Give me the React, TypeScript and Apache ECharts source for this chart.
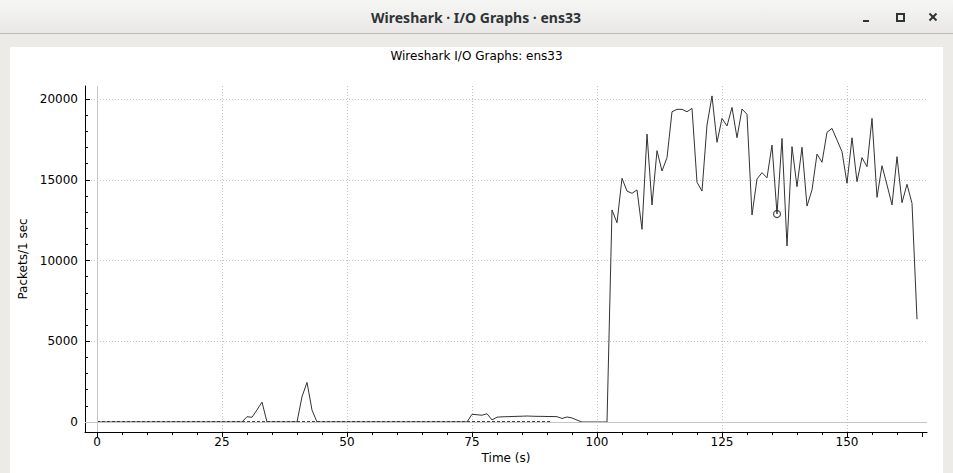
import React, { useEffect, useRef } from "react";
import * as echarts from "echarts";

const windowTitle = "Wireshark · I/O Graphs · ens33";
const chartTitle = "Wireshark I/O Graphs: ens33";
const xAxisName = "Time (s)";
const yAxisName = "Packets/1 sec";

// packets per 1-second interval, index = second
const mainPackets = [
  0, 0, 0, 0, 0, 0, 0, 0, 0, 0,
  0, 0, 0, 0, 0, 0, 0, 0, 0, 0,
  0, 0, 0, 0, 0, 0, 0, 0, 0, 0,
  330, 290, 750, 1230, 0, 0, 0, 0, 0, 0,
  0, 1570, 2450, 740, 0, 0, 0, 0, 0, 0,
  0, 0, 0, 0, 0, 0, 0, 0, 0, 0,
  0, 0, 0, 0, 0, 0, 0, 0, 0, 0,
  0, 0, 0, 0, 0, 480, 450, 420, 510, 130,
  300, 320, 330, 340, 350, 360, 370, 360, 350, 350,
  340, 340, 330, 220, 310, 250, 120, 0, 0, 0,
  0, 0, 0, 13130, 12340, 15090, 14300, 14160, 14370, 11930,
  17830, 13440, 16800, 15540, 16370, 19210, 19360, 19360, 19210, 19420,
  14840, 14300, 18390, 20190, 17320, 18800, 18330, 19480, 17600, 19380,
  19050, 12820, 15050, 15440, 15120, 17150, 12880, 17560, 10900, 17050,
  14570, 17010, 13370, 14370, 16590, 16080, 17940, 18180, 17460, 16740,
  14780, 17600, 14880, 16370, 15810, 18800, 13910, 15870, 14680, 13440,
  16430, 13580, 14720, 13540, 6360,
];

// second graph (dashed), index = second
const dashedPackets = [
  0, 0, 0, 0, 0, 0, 0, 0, 0, 0,
  0, 0, 0, 0, 0, 0, 0, 0, 0, 0,
  0, 0, 0, 0, 0, 0, 0, 0, 0, 0,
  0, 0, 0, 0, 0, 0, 0, 0, 0, 0,
  0, 0, 0, 0, 0, 0, 0, 0, 0, 0,
  0, 0, 0, 0, 0, 0, 0, 0, 0, 0,
  0, 0, 0, 0, 0, 0, 0, 0, 0, 0,
  0, 0, 0, 0, 0, 0, 0, 0, 0, 0,
  0, 0, 0, 0, 0, 0, 0, 0, 0, 0,
  0, 0,
];

const markerSecond = 136;

const xTickInterval = 25;
const yTickInterval = 5000;

const FONT = "'DejaVu Sans', sans-serif";
const GRID_LINE = { color: "#c4c4c4", type: [1, 2] as number[], width: 1 };

export default function App() {
  const ref = useRef<HTMLDivElement>(null);

  useEffect(() => {
    const chart = echarts.init(ref.current!, null, { renderer: "svg" });
    const mainData = mainPackets.map((v, i) => [i, v]);
    const dashedData = dashedPackets.map((v, i) => [i, v]);
    const dark = "#2e3436";

    const option: any = {
      animation: false,
      backgroundColor: "#edebe7",
      textStyle: { fontFamily: FONT },
      title: {
        text: chartTitle,
        left: "center",
        top: 50,
        padding: 0,
        textStyle: { fontFamily: FONT, fontSize: 12, fontWeight: "normal", color: "#000" },
      },
      graphic: [
        {
          type: "rect",
          z: -10,
          silent: true,
          shape: { x: 0, y: 0, width: 953, height: 33 },
          style: {
            fill: new echarts.graphic.LinearGradient(0, 0, 0, 1, [
              { offset: 0, color: "#f6f6f5" },
              { offset: 1, color: "#e9e8e7" },
            ]),
          },
        },
        {
          type: "line",
          z: -9,
          silent: true,
          shape: { x1: 0, y1: 33.5, x2: 953, y2: 33.5 },
          style: { stroke: "#bdbab5", lineWidth: 1 },
        },
        {
          type: "rect",
          z: -10,
          silent: true,
          shape: { x: 10, y: 47, width: 933, height: 426 },
          style: { fill: "#ffffff" },
        },
        {
          type: "text",
          z: -8,
          silent: true,
          x: 476,
          y: 17,
          style: {
            text: windowTitle,
            fill: dark,
            fontFamily: "'Noto Sans', sans-serif",
            fontSize: 14,
            fontWeight: "bold",
            align: "center",
            verticalAlign: "middle",
          },
        },
        {
          type: "rect",
          z: -8,
          silent: true,
          shape: { x: 863, y: 20, width: 6, height: 2 },
          style: { fill: dark },
        },
        {
          type: "rect",
          z: -8,
          silent: true,
          shape: { x: 897, y: 14, width: 7, height: 7 },
          style: { fill: "none", stroke: dark, lineWidth: 2 },
        },
        {
          type: "line",
          z: -8,
          silent: true,
          shape: { x1: 929.5, y1: 13.5, x2: 936.5, y2: 20.5 },
          style: { stroke: dark, lineWidth: 2 },
        },
        {
          type: "line",
          z: -8,
          silent: true,
          shape: { x1: 936.5, y1: 13.5, x2: 929.5, y2: 20.5 },
          style: { stroke: dark, lineWidth: 2 },
        },
      ],
      grid: [
        { left: 85, right: 26, top: 86, bottom: 41 },
        { left: 97, right: 31, top: 86, bottom: 41 },
        { left: 85, right: 26, top: 99, bottom: 51 },
      ],
      xAxis: [
        {
          gridIndex: 0,
          type: "value",
          min: -2.4,
          max: 166,
          axisLine: { show: true, onZero: false, lineStyle: { color: "#000", width: 1 } },
          axisTick: { show: false },
          axisLabel: { show: false },
          splitLine: { show: false },
          name: xAxisName,
          nameLocation: "middle",
          nameGap: 20,
          nameTextStyle: { fontFamily: FONT, fontSize: 12, color: "#000" },
        },
        {
          gridIndex: 1,
          type: "value",
          min: 0,
          max: 165,
          interval: xTickInterval,
          axisLine: { show: false, onZero: false },
          axisTick: { show: true, length: 5, lineStyle: { color: "#000", width: 1 } },
          minorTick: { show: true, splitNumber: 5, length: 3, lineStyle: { color: "#000", width: 1 } },
          axisLabel: {
            fontFamily: FONT,
            fontSize: 12,
            color: "#000",
            margin: 4,
            showMaxLabel: false,
            formatter: (v: number) => String(v),
          },
          splitLine: { show: true, showMaxLine: false, lineStyle: GRID_LINE },
        },
        { gridIndex: 2, type: "value", show: false, min: 0, max: 1 },
      ],
      yAxis: [
        {
          gridIndex: 0,
          type: "value",
          min: -619,
          max: 20805,
          axisLine: { show: true, onZero: false, lineStyle: { color: "#000", width: 1 } },
          axisTick: { show: false },
          axisLabel: { show: false },
          splitLine: { show: false },
          name: yAxisName,
          nameLocation: "middle",
          nameRotate: 90,
          nameGap: 56,
          nameTextStyle: { fontFamily: FONT, fontSize: 12, color: "#000" },
        },
        { gridIndex: 1, type: "value", show: false, min: 0, max: 1 },
        {
          gridIndex: 2,
          type: "value",
          min: 0,
          max: 20000,
          interval: yTickInterval,
          axisLine: { show: false, onZero: false },
          axisTick: { show: true, inside: true, length: 5, lineStyle: { color: "#000", width: 1 } },
          minorTick: { show: true, splitNumber: 5, length: 3, lineStyle: { color: "#000", width: 1 } },
          axisLabel: {
            fontFamily: FONT,
            fontSize: 12,
            color: "#000",
            margin: 7,
            formatter: (v: number) => String(v),
          },
          splitLine: { show: true, lineStyle: GRID_LINE },
        },
      ],
      series: [
        {
          type: "line",
          xAxisIndex: 0,
          yAxisIndex: 0,
          data: dashedData,
          symbol: "none",
          showSymbol: false,
          silent: true,
          z: 3,
          lineStyle: { color: "#444", width: 2, type: [3, 2] },
          markLine: {
            silent: true,
            symbol: ["none", "none"],
            label: { show: false },
            lineStyle: { color: "#c6c6c6", type: "solid", width: 1 },
            data: [{ xAxis: 0 }, { yAxis: 0 }],
          },
        },
        {
          type: "line",
          xAxisIndex: 0,
          yAxisIndex: 0,
          data: mainData,
          symbol: "none",
          showSymbol: false,
          silent: true,
          z: 4,
          lineStyle: { color: "#333", width: 1 },
        },
        {
          type: "scatter",
          xAxisIndex: 0,
          yAxisIndex: 0,
          data: [[markerSecond, mainPackets[markerSecond]]],
          symbol: "circle",
          symbolSize: 7,
          silent: true,
          z: 5,
          itemStyle: { color: "transparent", borderColor: "#222", borderWidth: 1.2 },
        },
      ],
    };

    chart.setOption(option);
    return () => chart.dispose();
  }, []);

  return (
    <div
      ref={ref}
      style={{ position: "absolute", left: 0, top: 0, width: 953, height: 473 }}
    />
  );
}
